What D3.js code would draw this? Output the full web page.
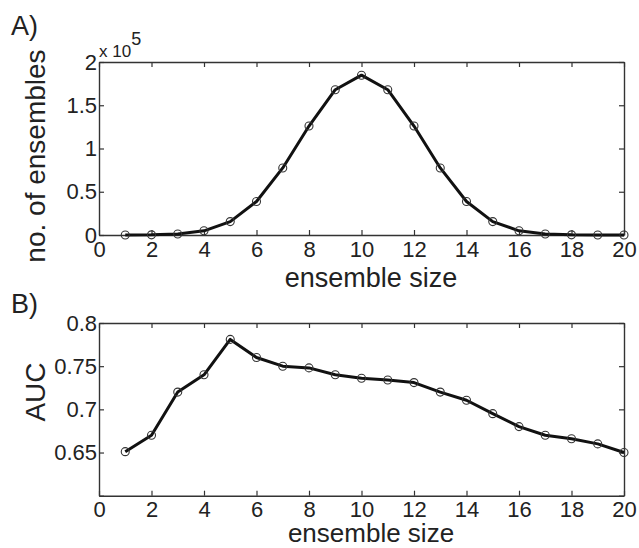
<!DOCTYPE html>
<html><head><meta charset="utf-8">
<script src="https://cdn.jsdelivr.net/npm/d3@7"></script>
<style>
body{margin:0;background:#fff;}
text{font-family:"Liberation Sans",Arial,sans-serif;fill:#222;}
</style></head>
<body>
<svg id="c" width="639" height="548"></svg>
<script>
const ensembleSize = [1,2,3,4,5,6,7,8,9,10,11,12,13,14,15,16,17,18,19,20];
const nEnsembles = [20,190,1140,4845,15504,38760,77520,125970,167960,184756,167960,125970,77520,38760,15504,4845,1140,190,20,1];
const auc = [0.651,0.670,0.720,0.740,0.781,0.760,0.750,0.748,0.740,0.736,0.734,0.731,0.720,0.7105,0.695,0.680,0.670,0.666,0.660,0.650];
const xTicks = [0,2,4,6,8,10,12,14,16,18,20];
const yTicksA = [0,50000,100000,150000,200000];
const yTickLabelsA = ["0","0.5","1","1.5","2"];
const yTicksB = [0.6,0.65,0.7,0.75,0.8];
const yTickLabelsB = ["","0.65","0.7","0.75","0.8"];

const svg = d3.select("#c");
const L = 99, R = 624;

function panel(top, bottom, yDomain, yTicks, yLabels, data, yLabel, panelLabel, panelLabelY, xLabelY, xLabelSize){
  const x = d3.scaleLinear().domain([0,20]).range([L,R]);
  const y = d3.scaleLinear().domain(yDomain).range([bottom,top]);
  const g = svg.append("g");
  const fmtY = d => yLabels[yTicks.indexOf(d)];
  const style = sel => {
    sel.selectAll("path.domain").attr("stroke","#333").attr("stroke-width",1.4);
    sel.selectAll(".tick line").attr("stroke","#333").attr("stroke-width",1.2);
    sel.selectAll("text").attr("font-size",22).attr("fill","#222").attr("font-family",'"Liberation Sans",Arial,sans-serif');
  };
  g.append("g").attr("transform",`translate(0,${bottom})`)
    .call(d3.axisBottom(x).tickValues(xTicks).tickSize(-5).tickSizeOuter(0).tickPadding(6).tickFormat(d3.format("d"))).call(style);
  g.append("g").attr("transform",`translate(0,${top})`)
    .call(d3.axisTop(x).tickValues(xTicks).tickSize(-5).tickSizeOuter(0).tickFormat("")).call(style);
  g.append("g").attr("transform",`translate(${L},0)`)
    .call(d3.axisLeft(y).tickValues(yTicks).tickSize(-5).tickSizeOuter(0).tickPadding(2).tickFormat(fmtY)).call(style);
  g.append("g").attr("transform",`translate(${R},0)`)
    .call(d3.axisRight(y).tickValues(yTicks).tickSize(-5).tickSizeOuter(0).tickFormat("")).call(style);

  const pts = ensembleSize.map((s,i)=>[s,data[i]]);
  g.append("path").datum(pts)
    .attr("fill","none").attr("stroke","#111").attr("stroke-width",3).attr("stroke-linejoin","round")
    .attr("d", d3.line().x(d=>x(d[0])).y(d=>y(d[1])));
  g.selectAll("circle.m").data(pts).enter().append("circle")
    .attr("cx",d=>x(d[0])).attr("cy",d=>y(d[1])).attr("r",4)
    .attr("fill","none").attr("stroke","#333").attr("stroke-width",1.1);

  g.append("text").attr("x",371).attr("y",xLabelY).attr("text-anchor","middle")
    .attr("font-size",xLabelSize).text("ensemble size");
  g.append("text").attr("transform",`translate(45,${yLabel.cy}) rotate(-90)`).attr("text-anchor","middle")
    .attr("font-size",28).text(yLabel.text);
  g.append("text").attr("x",11).attr("y",panelLabelY).attr("font-size",27).text(panelLabel);
  return {x,y};
}

panel(62, 235, [0,200000], yTicksA, yTickLabelsA, nEnsembles, {text:"no. of ensembles", cy:156}, "A)", 35, 287, 27);
panel(323, 495.7, [0.6,0.8], yTicksB, yTickLabelsB, auc, {text:"AUC", cy:392}, "B)", 313, 542, 26);

const ex = svg.append("text").attr("x",99).attr("y",57).attr("font-size",17);
ex.append("tspan").text("x 10");
ex.append("tspan").attr("dy",-12).attr("font-size",18).text("5");
</script>
</body></html>
